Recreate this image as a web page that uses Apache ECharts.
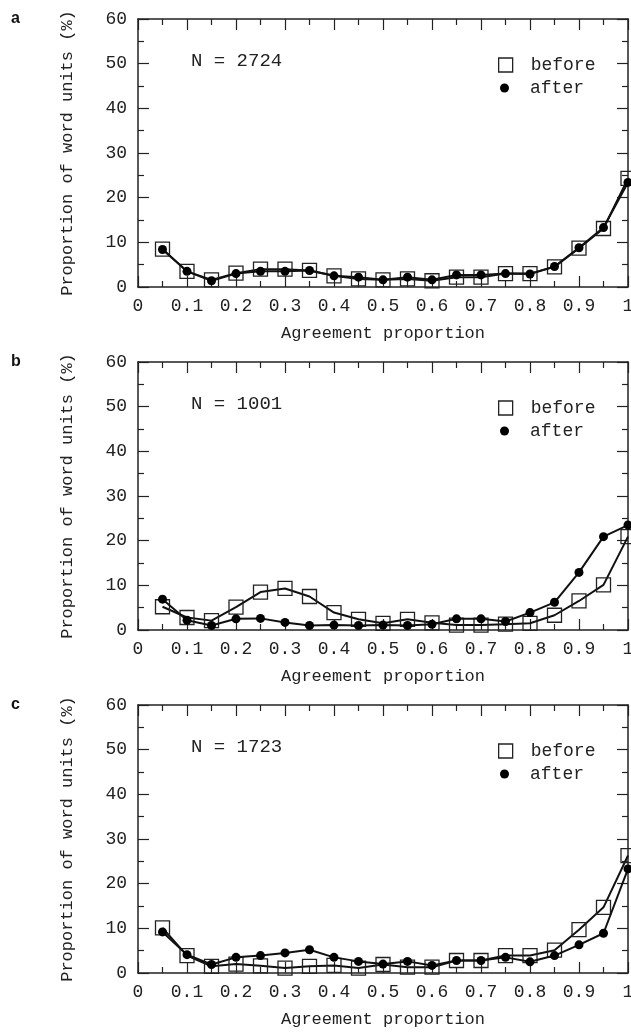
<!DOCTYPE html>
<html>
<head>
<meta charset="utf-8">
<script src="https://cdn.jsdelivr.net/npm/echarts@6/dist/echarts.min.js"></script>
<style>
  html, body { margin: 0; padding: 0; background: #fff; }
  #main { width: 631px; height: 1033px; }
</style>
</head>
<body>
<div id="main"></div>
<script>
// agreement proportion bins
var xs = [0.05, 0.1, 0.15, 0.2, 0.25, 0.3, 0.35, 0.4, 0.45, 0.5,
          0.55, 0.6, 0.65, 0.7, 0.75, 0.8, 0.85, 0.9, 0.95, 1.0];

// panel a
var beforeA = [8.5, 3.5, 1.6, 3.1, 4.0, 4.0, 3.7, 2.5, 1.8, 1.6,
               1.8, 1.4, 2.2, 2.2, 3.0, 3.0, 4.5, 8.7, 13.1, 24.3];
var afterA  = [8.4, 3.5, 1.4, 3.0, 3.5, 3.5, 3.7, 2.5, 2.2, 1.6,
               2.2, 1.6, 2.7, 2.7, 3.0, 2.9, 4.6, 8.8, 13.3, 23.4];
// panel b
var beforeB = [5.2, 2.8, 2.1, 5.1, 8.5, 9.3, 7.5, 3.9, 2.4, 1.5,
               2.4, 1.6, 1.1, 1.1, 1.3, 1.5, 3.3, 6.5, 10.1, 20.9];
var afterB  = [6.9, 2.2, 1.0, 2.5, 2.6, 1.7, 1.0, 1.1, 1.0, 1.1,
               1.0, 1.3, 2.5, 2.5, 1.9, 3.9, 6.2, 12.9, 20.9, 23.5];
// panel c
var beforeC = [10.1, 3.9, 1.5, 2.0, 1.6, 1.1, 1.5, 1.7, 1.1, 1.9,
               1.3, 1.3, 2.8, 2.8, 3.9, 3.9, 5.1, 9.7, 14.7, 26.3];
var afterC  = [9.2, 4.1, 1.9, 3.5, 3.9, 4.5, 5.2, 3.5, 2.6, 2.0,
               2.6, 1.7, 2.8, 2.8, 3.5, 2.5, 3.9, 6.3, 8.9, 23.3];

var panelLetters = ['a', 'b', 'c'];
var nLabels = ['N = 2724', 'N = 1001', 'N = 1723'];
var xTitle = 'Agreement proportion';
var yTitle = 'Proportion of word units (%)';

var FONT = 'Liberation Mono';
var gridTops = [19, 362, 705];

function pairs(ys) {
    var res = [];
    for (var i = 0; i < xs.length; i++) {
        res.push([xs[i], ys[i]]);
    }
    return res;
}

function tickStyle() {
    return {
        axisLine: { show: true, onZero: false, lineStyle: { color: '#222', width: 1.5 } },
        axisTick: { show: true, inside: true, length: 11, lineStyle: { color: '#222', width: 1.2 } },
        minorTick: { show: true, splitNumber: 2, length: 6, lineStyle: { color: '#222', width: 1.2 } },
        splitLine: { show: false },
        minorSplitLine: { show: false }
    };
}

var beforeSets = [beforeA, beforeB, beforeC];
var afterSets = [afterA, afterB, afterC];

var grids = [], xAxes = [], yAxes = [], series = [], titles = [], legends = [];

for (var p = 0; p < 3; p++) {
    var gTop = gridTops[p];
    grids.push({ left: 138, top: gTop, width: 490, height: 268,
                 containLabel: false, outerBoundsMode: 'none' });

    // bottom x axis with labels
    xAxes.push(Object.assign({
        type: 'value', gridIndex: p, position: 'bottom',
        min: 0, max: 1, interval: 0.1,
        name: xTitle, nameLocation: 'middle', nameGap: 38,
        nameTextStyle: { fontFamily: FONT, fontSize: 17, color: '#222' },
        axisLabel: { fontFamily: FONT, fontSize: 18, color: '#222', margin: 10 }
    }, tickStyle()));
    // top x axis, ticks only
    xAxes.push(Object.assign({
        type: 'value', gridIndex: p, position: 'top',
        min: 0, max: 1, interval: 0.1,
        axisLabel: { show: false }
    }, tickStyle()));
    // left y axis with labels
    yAxes.push(Object.assign({
        type: 'value', gridIndex: p, position: 'left',
        min: 0, max: 60, interval: 10,
        name: yTitle, nameLocation: 'middle', nameGap: 62,
        nameTextStyle: { fontFamily: FONT, fontSize: 17, color: '#222' },
        axisLabel: { fontFamily: FONT, fontSize: 18, color: '#222', margin: 11 }
    }, tickStyle()));
    // right y axis, ticks only
    yAxes.push(Object.assign({
        type: 'value', gridIndex: p, position: 'right',
        min: 0, max: 60, interval: 10,
        axisLabel: { show: false }
    }, tickStyle()));

    series.push({
        name: 'before', type: 'line',
        xAxisIndex: p * 2, yAxisIndex: p * 2,
        data: pairs(beforeSets[p]),
        symbol: 'rect', symbolSize: 14,
        itemStyle: { color: 'rgba(0,0,0,0)', borderColor: '#222', borderWidth: 1.3 },
        lineStyle: { color: '#111', width: 2 },
        clip: false,
        z: 3
    });
    series.push({
        name: 'after', type: 'line',
        xAxisIndex: p * 2, yAxisIndex: p * 2,
        data: pairs(afterSets[p]),
        symbol: 'circle', symbolSize: 9,
        itemStyle: { color: '#000' },
        lineStyle: { color: '#111', width: 2 },
        clip: false,
        z: 4
    });

    titles.push({
        text: panelLetters[p], left: 6, top: gTop - 13,
        textStyle: { fontFamily: 'Liberation Sans', fontWeight: 'bold', fontSize: 16, color: '#111' }
    });
    titles.push({
        text: nLabels[p], left: 186, top: gTop + 27,
        textStyle: { fontFamily: FONT, fontWeight: 'normal', fontSize: 19, color: '#222' }
    });

    legends.push({
        left: 493, top: gTop + 32, orient: 'vertical',
        selectedMode: false, itemWidth: 14, itemHeight: 14,
        textStyle: { fontFamily: FONT, fontSize: 18, color: '#222', padding: [0, 0, 0, 13] },
        data: [{ name: 'before', icon: 'rect',
                 itemStyle: { color: 'rgba(0,0,0,0)', borderColor: '#222', borderWidth: 1.3 } }]
    });
    legends.push({
        left: 495, top: gTop + 55, orient: 'vertical',
        selectedMode: false, itemWidth: 9, itemHeight: 9,
        textStyle: { fontFamily: FONT, fontSize: 18, color: '#222', padding: [0, 0, 0, 16] },
        data: [{ name: 'after', icon: 'circle', itemStyle: { color: '#000' } }]
    });
}

var myChart = echarts.init(document.getElementById('main'));
var option = {
    backgroundColor: '#fff',
    animation: false,
    title: titles,
    legend: legends,
    grid: grids,
    xAxis: xAxes,
    yAxis: yAxes,
    series: series
};
myChart.setOption(option);
</script>
</body>
</html>
